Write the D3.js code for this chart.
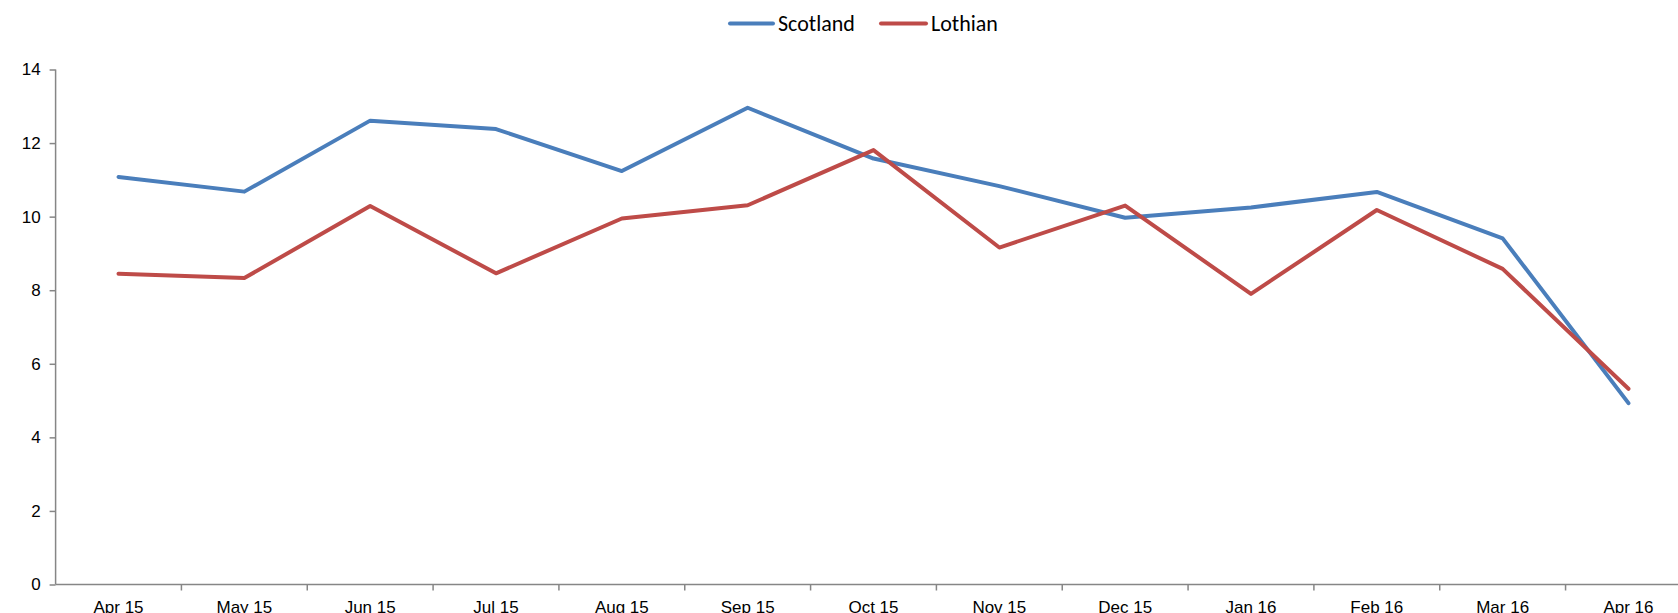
<!DOCTYPE html>
<html>
<head>
<meta charset="utf-8">
<script src="https://cdn.jsdelivr.net/npm/d3@7/dist/d3.min.js"></script>
<style>
  html, body { margin: 0; padding: 0; background: #fff; overflow: hidden; }
  svg { display: block; }
</style>
</head>
<body>
<svg id="chart" width="1678" height="613"></svg>
<script>
const months = ["Apr 15","May 15","Jun 15","Jul 15","Aug 15","Sep 15","Oct 15","Nov 15","Dec 15","Jan 16","Feb 16","Mar 16","Apr 16"];
const scotland = [11.08, 10.68, 12.61, 12.38, 11.24, 12.96, 11.58, 10.83, 9.97, 10.25, 10.67, 9.41, 4.93];
const lothian  = [8.45, 8.33, 10.29, 8.46, 9.95, 10.31, 11.81, 9.16, 10.30, 7.90, 10.18, 8.58, 5.32];
const yTicks = [0, 2, 4, 6, 8, 10, 12, 14];
const seriesNames = ["Scotland", "Lothian"];

(function () {
const colors = { Scotland: "#4A7EBB", Lothian: "#BE4B48" };
const axisColor = "#868686";

const svg = d3.select("#chart");
const plotLeft = 55.6, bandW = 125.83;
const plotTop = 69.5, plotBottom = 584.5;

const x = d3.scaleBand().domain(months).range([plotLeft, plotLeft + bandW * months.length]).padding(0);
const y = d3.scaleLinear().domain([0, 14]).range([plotBottom, plotTop]);

// Y axis
const yAxis = d3.axisLeft(y).tickValues(yTicks).tickSize(6).tickPadding(9).tickFormat(d3.format("d"));
const gy = svg.append("g").attr("transform", `translate(${plotLeft},0)`).call(yAxis);
gy.select(".domain").attr("stroke", axisColor).attr("stroke-width", 1.5).attr("d", `M0,${plotTop}V${plotBottom}`);
gy.selectAll(".tick line").attr("stroke", axisColor).attr("stroke-width", 1.5);
gy.selectAll("text").attr("font-family", "Liberation Sans, Arial, sans-serif").attr("font-size", 17).attr("fill", "#000");

// X axis (labels at band centres, ticks at band boundaries)
const xAxis = d3.axisBottom(x).tickSize(0).tickPadding(16);
const gx = svg.append("g").attr("transform", `translate(0,${plotBottom})`).call(xAxis);
gx.select(".domain").attr("stroke", axisColor).attr("stroke-width", 1.5).attr("d", `M${plotLeft},0H1678`);
gx.selectAll("text").attr("font-family", "Liberation Sans, Arial, sans-serif").attr("font-size", 17).attr("fill", "#000");
gx.selectAll(".boundary").data(months).enter().append("line")
  .attr("class", "boundary")
  .attr("x1", d => x(d) + x.bandwidth())
  .attr("x2", d => x(d) + x.bandwidth())
  .attr("y1", 0).attr("y2", 6)
  .attr("stroke", axisColor).attr("stroke-width", 1.5);

// Lines
const data = { Scotland: scotland, Lothian: lothian };
const line = d3.line().x((d, i) => x(months[i]) + x.bandwidth() / 2).y(d => y(d));
seriesNames.forEach(name => {
  svg.append("path")
    .datum(data[name])
    .attr("fill", "none")
    .attr("stroke", colors[name])
    .attr("stroke-width", 4)
    .attr("stroke-linejoin", "round")
    .attr("stroke-linecap", "round")
    .attr("d", line);
});

// Legend
const legendItems = [
  { name: "Scotland", x1: 730, x2: 773, tx: 778 },
  { name: "Lothian", x1: 881, x2: 926, tx: 931 }
];
const lg = svg.append("g");
legendItems.forEach(it => {
  lg.append("line").attr("x1", it.x1).attr("x2", it.x2).attr("y1", 23.5).attr("y2", 23.5)
    .attr("stroke", colors[it.name]).attr("stroke-width", 4).attr("stroke-linecap", "round");
  lg.append("text").attr("x", it.tx).attr("y", 31).text(it.name)
    .attr("font-family", "Carlito, Lato, sans-serif").attr("font-size", 22).attr("fill", "#000");
});
})();
</script>
</body>
</html>
